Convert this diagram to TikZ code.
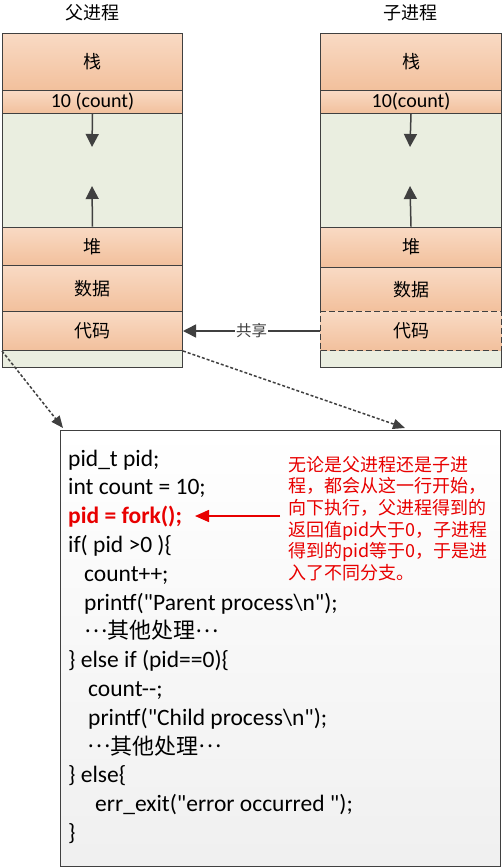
\documentclass[tikz,border=0pt]{standalone}
\usepackage{fontspec}
\setmainfont{Carlito}
\newfontfamily\cjk{Noto Sans CJK SC}
\usetikzlibrary{arrows.meta,positioning}

\definecolor{segtop}{RGB}{249,218,196}
\definecolor{segbot}{RGB}{242,192,156}
\definecolor{segfill}{RGB}{245,204,174}
\definecolor{gapfill}{RGB}{234,238,224}
\definecolor{edgegray}{RGB}{64,64,64}
\definecolor{notered}{RGB}{232,0,0}

% straight double quote and centred dots
\newcommand{\dq}{\textquotedbl}
\newcommand{\middots}{\raisebox{0.3em}{…}}

\begin{document}
\begin{tikzpicture}[x=1pt, y=-1pt,
    seg/.style={draw=edgegray, line width=1pt, top color=segtop, bottom color=segbot, inner sep=0pt,
      anchor=north west, font=\cjk\fontsize{18}{20}\selectfont},
    gap/.style={draw=edgegray, line width=1pt, fill=gapfill, inner sep=0pt, anchor=north west},
    codeline/.style={anchor=base west, inner sep=0pt, font=\fontsize{23.5}{28}\selectfont},
    cjkline/.style={codeline, text height=15pt, font=\cjk\fontsize{22}{28}\selectfont},
    growarrow/.style={edgegray, line width=1.5pt, -{Triangle[width=13pt,length=13pt]}},
    linkarrow/.style={edgegray, line width=1.5pt, dash pattern=on 3pt off 2pt,
      -{Triangle[width=10pt,length=12pt]}}]
  \useasboundingbox (0,0) rectangle (502,867);

  % Titles
  \node[font=\cjk\fontsize{18}{20}\selectfont] (ptitle) at (92,13) {父进程};
  \node[font=\cjk\fontsize{18}{20}\selectfont] (ctitle) at (410,13) {子进程};

  % Parent process memory
  \node[seg, minimum width=180pt, minimum height=57pt]  (Lstack) at (2,33)  {栈};
  \node[seg, minimum width=180pt, minimum height=23pt, font=\fontsize{20}{22}\selectfont]
    (Lcount) at (2,90) {10 (count)};
  \node[gap, minimum width=180pt, minimum height=113.7pt] (Lgap) at (2,113) {};
  \node[seg, minimum width=180pt, minimum height=38.3pt] (Lheap) at (2,226.7) {堆};
  \node[seg, minimum width=180pt, minimum height=46pt]  (Ldata) at (2,265) {数据};
  \node[seg, minimum width=180pt, minimum height=39pt]  (Lcode) at (2,311) {代码};
  \node[gap, minimum width=180pt, minimum height=17pt]  (Ltail) at (2,350) {};

  % Child process memory
  \node[seg, minimum width=181pt, minimum height=57pt]  (Rstack) at (320,33)  {栈};
  \node[seg, minimum width=181pt, minimum height=23pt, font=\fontsize{20}{22}\selectfont]
    (Rcount) at (320,90) {10(count)};
  \node[gap, minimum width=181pt, minimum height=113.7pt] (Rgap) at (320,113) {};
  \node[seg, minimum width=181pt, minimum height=40pt]  (Rheap) at (320,226.7) {堆};
  \node[seg, minimum width=181pt, minimum height=44.3pt] (Rdata) at (320,266.7) {数据};
  \node[gap, minimum width=181pt, minimum height=17pt]  (Rtail) at (320,350) {};
  % shared code segment, dashed
  \node[seg, minimum width=181pt, minimum height=39pt, dash pattern=on 6pt off 3pt,
    preaction={draw=segfill, line width=1.1pt}] (Rcode) at (320,311) {代码};

  % Stack grows down, heap grows up
  \coordinate (Ldown) at (92,147);
  \coordinate (Lup)   at (92,186);
  \coordinate (Rdown) at (410,147);
  \coordinate (Rup)   at (410,186);
  \draw[growarrow] (Lcount.south) -- (Ldown);
  \draw[growarrow] (Lheap.north) -- (Lup);
  \draw[growarrow] (Rcount.south) -- (Rdown);
  \draw[growarrow] (Rheap.north) -- (Rup);

  % Shared code
  \draw[growarrow] (Rcode.west) -- (Lcode.east)
    node[midway, fill=white, inner sep=1pt, text=edgegray, font=\cjk\fontsize{15.5}{17}\selectfont] (share) {共享};

  % Source code box
  \node[draw=edgegray, line width=1pt, top color=white, bottom color=gray!12,
    anchor=north west, minimum width=440pt, minimum height=436pt, inner sep=0pt] (src) at (60,430) {};

  \coordinate (srcL) at (63,428);
  \coordinate (srcR) at (405,428);
  \draw[linkarrow] (Lcode.south west) -- (srcL);
  \draw[linkarrow] (Lcode.south east) -- (srcR);

  % Code lines
  \node[codeline] (c1)  at (68,466)   {pid\_t pid;};
  \node[codeline] (c2)  at (68,494.8) {int count = 10;};
  \node[codeline, text=notered, font=\bfseries\fontsize{23.5}{28}\selectfont] (c3) at (68,523.6) {pid = fork();};
  \node[codeline] (c4)  at (68,552.4) {if( pid >0 )\{};
  \node[codeline] (c5)  at (84,581.2) {count++;};
  \node[codeline] (c6)  at (84,610)   {printf(\dq Parent process\textbackslash n\dq);};
  \node[cjkline] (c7) at (84,638.8) {\middots 其他处理\middots};
  \node[codeline] (c8)  at (68,667.6) {\} else if (pid==0)\{};
  \node[codeline] (c9)  at (88,696.4) {count{-}{-};};
  \node[codeline] (c10) at (88,725.2) {printf(\dq Child process\textbackslash n\dq);};
  \node[cjkline] (c11) at (87,754) {\middots 其他处理\middots};
  \node[codeline] (c12) at (68,782.8) {\} else\{};
  \node[codeline] (c13) at (95,811.6) {err\_exit(\dq error occurred \dq);};
  \node[codeline] (c14) at (68,840.4) {\}};

  % Note on fork()
  \node[anchor=north west, inner sep=0pt, align=left, text=notered,
    font=\cjk\fontsize{18}{21.6}\selectfont] (note) at (288,456)
    {无论是父进程还是子进\\程，都会从这一行开始，\\向下执行，父进程得到的\\返回值pid大于0，子进程\\得到的pid等于0，于是进\\入了不同分支。};
  \coordinate (redtail) at (280,516);
  \coordinate (redtip)  at (195,516);
  \draw[notered, line width=1.5pt, -{Triangle[width=12pt,length=14pt]}] (redtail) -- (redtip);
\end{tikzpicture}
\end{document}
